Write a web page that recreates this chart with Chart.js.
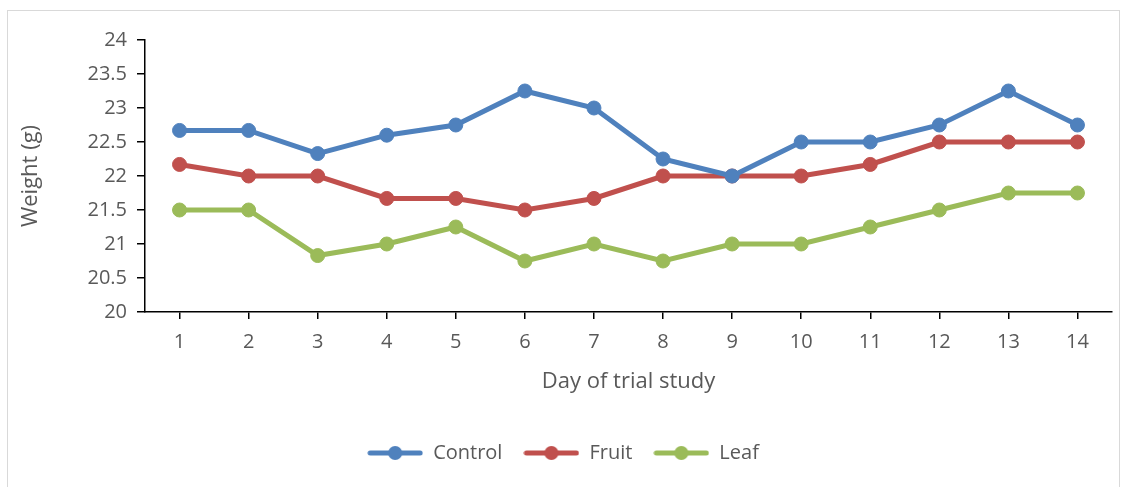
<!DOCTYPE html>
<html>
<head>
<meta charset="utf-8">
<script src="https://cdn.jsdelivr.net/npm/chart.js@4"></script>
<style>
  html, body { margin: 0; padding: 0; background: #fff; }
  #wrap { position: relative; width: 1129px; height: 487px; }
  #frame { position: absolute; left: 7px; top: 10px; width: 1113px; height: 490px; border: 1px solid #d9d9d9; box-sizing: border-box; }
  canvas { position: absolute; left: 0; top: 0; }
</style>
</head>
<body>
<div id="wrap">
  <div id="frame"></div>
  <canvas id="myChart" width="1129" height="487"></canvas>
</div>
<script>
const days = ['1','2','3','4','5','6','7','8','9','10','11','12','13','14'];
const control = [22.67, 22.67, 22.33, 22.6, 22.75, 23.25, 23.0, 22.25, 22.0, 22.5, 22.5, 22.75, 23.25, 22.75];
const fruit = [22.17, 22.0, 22.0, 21.67, 21.67, 21.5, 21.67, 22.0, 22.0, 22.0, 22.17, 22.5, 22.5, 22.5];
const leaf = [21.5, 21.5, 20.83, 21.0, 21.25, 20.75, 21.0, 20.75, 21.0, 21.0, 21.25, 21.5, 21.75, 21.75];
const seriesNames = ['Control', 'Fruit', 'Leaf'];
const colors = ['#4f81bd', '#c0504d', '#9bbb59'];

const fontFamily = '"Open Sans", sans-serif';
const textColor = '#595959';

// legend symbol: a short line with a dot in the middle
function legendIcon(color){
  const c = document.createElement('canvas');
  c.width = 56; c.height = 16;
  const g = c.getContext('2d');
  g.strokeStyle = color;
  g.lineWidth = 5;
  g.lineCap = 'round';
  g.beginPath();
  g.moveTo(3, 8);
  g.lineTo(53, 8);
  g.stroke();
  g.fillStyle = color;
  g.beginPath();
  g.arc(28, 8, 7, 0, Math.PI * 2);
  g.fill();
  return c;
}

function makeSet(name, values, color){
  return {
    label: name,
    data: values,
    borderColor: color,
    backgroundColor: color,
    borderWidth: 5,
    pointRadius: 7,
    pointHoverRadius: 7,
    pointBorderWidth: 1,
    pointBorderColor: color,
    pointBackgroundColor: color,
    tension: 0
  };
}

const ctx = document.getElementById('myChart');

new Chart(ctx, {
  type: 'line',
  data: {
    labels: days,
    datasets: [
      makeSet(seriesNames[0], control, colors[0]),
      makeSet(seriesNames[1], fruit, colors[1]),
      makeSet(seriesNames[2], leaf, colors[2])
    ]
  },
  options: {
    responsive: false,
    animation: false,
    layout: {
      padding: { left: 14, right: 17, top: 40, bottom: 14 }
    },
    scales: {
      x: {
        offset: true,
        afterFit: function(scale){ scale.height = 110; },
        grid: {
          drawOnChartArea: false,
          drawTicks: true,
          tickLength: 7,
          color: '#000',
          lineWidth: 1.5
        },
        border: { color: '#000', width: 1.5 },
        ticks: {
          color: textColor,
          font: { family: fontFamily, size: 20 },
          padding: 11,
          maxRotation: 0
        },
        title: {
          display: true,
          text: 'Day of trial study',
          color: textColor,
          font: { family: fontFamily, size: 22 },
          padding: { top: 10, bottom: 27 }
        }
      },
      y: {
        min: 20,
        max: 24,
        afterFit: function(scale){ scale.width = 131; },
        grid: {
          drawOnChartArea: false,
          drawTicks: true,
          tickLength: 8,
          color: '#000',
          lineWidth: 1.5
        },
        border: { color: '#000', width: 1.5 },
        ticks: {
          stepSize: 0.5,
          color: textColor,
          font: { family: fontFamily, size: 20 },
          padding: 10,
          callback: function(v){ return String(v); }
        },
        title: {
          display: true,
          text: 'Weight (g)',
          color: textColor,
          font: { family: fontFamily, size: 22 },
          padding: { top: 4, bottom: 4 }
        }
      }
    },
    plugins: {
      legend: {
        position: 'bottom',
        labels: {
          usePointStyle: true,
          pointStyleWidth: 56,
          color: textColor,
          font: { family: fontFamily, size: 20 },
          padding: 21,
          generateLabels: function(chart){
            return chart.data.datasets.map(function(ds, i){
              return {
                text: ds.label,
                fontColor: textColor,
                pointStyle: legendIcon(colors[i]),
                datasetIndex: i,
                hidden: false,
                lineWidth: 0
              };
            });
          }
        }
      },
      tooltip: { enabled: false }
    }
  }
});
</script>
</body>
</html>
